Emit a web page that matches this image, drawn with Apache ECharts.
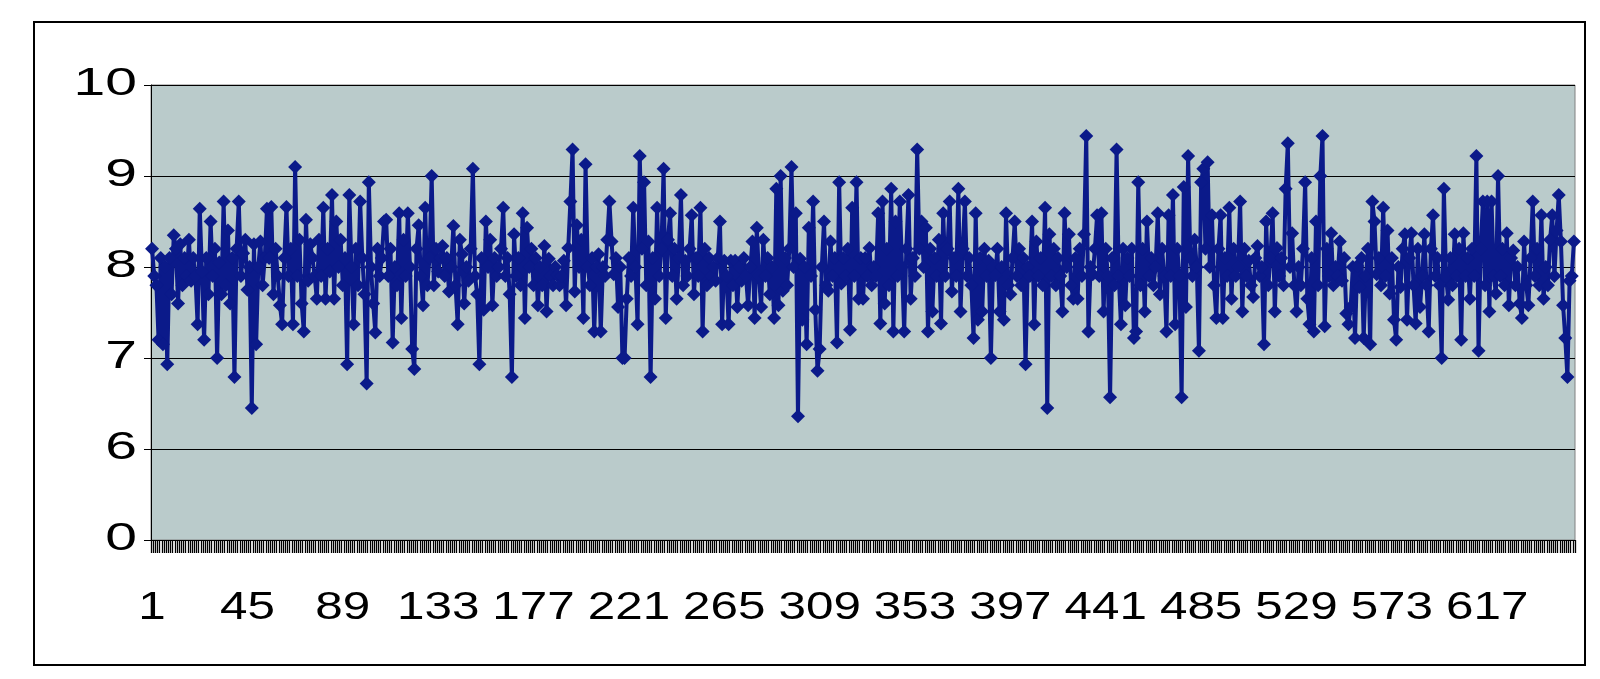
<!DOCTYPE html>
<html>
<head>
<meta charset="utf-8">
<script src="https://cdn.jsdelivr.net/npm/echarts@6/dist/echarts.min.js"></script>
<style>
html,body{margin:0;padding:0;background:#fff;}
#c{width:1600px;height:679px;}
</style>
</head>
<body>
<div id="c"></div>
<script>
// values, in segments of ~55 points each
const seg1 = [8.2,7.9,7.8,7.2,8.1,7.15,8.0,6.93,8.1,7.7,8.35,8.2,7.6,8.25,7.8,8.1,7.9,8.3,7.85,8.1,7.9,7.37,8.64,7.95,7.2,8.1,7.7,8.5,7.9,8.2,7.0,8.05,7.7,8.72,7.8,8.4,7.6,8.1,6.79,8.2,8.72,7.9,8.15,8.3,7.75,8.0,6.45,8.25,7.15,8.0,8.28,7.8,8.1,8.64];
const seg2 = [8.1,8.66,7.7,8.2,7.9,7.58,7.37,8.1,8.66,7.9,8.2,7.37,9.1,7.9,8.3,7.6,7.29,8.52,7.85,8.25,8.1,7.9,7.65,8.3,7.9,8.65,7.65,8.2,7.95,8.79,7.65,8.5,8.0,8.3,7.8,8.1,6.93,8.79,8.0,7.37,8.2,7.8,8.72,8.1,7.7,6.72,8.93,8.0,7.6,7.28,8.2,7.9,8.1,8.5];
const seg3 = [8.52,7.9,8.2,7.17,8.0,7.8,8.59,7.44,8.3,7.9,8.59,8.0,7.1,6.88,8.2,8.46,7.9,7.58,8.65,7.8,8.1,9.0,7.8,8.2,7.95,8.1,8.23,7.9,8.1,7.73,8.0,8.45,7.8,7.37,8.3,8.14,7.6,8.0,7.85,8.2,9.08,7.9,7.7,6.93,8.1,7.53,8.5,8.0,8.3,7.58,8.1,7.9,8.0,8.2,8.65,7.9];
const seg4 = [8.1,7.7,6.79,8.36,7.9,8.1,7.8,8.59,7.44,8.43,8.0,8.2,7.8,8.1,7.58,8.0,7.8,8.23,7.51,8.09,7.9,7.8,8.0,7.91,7.8,7.9,8.07,7.58,8.21,8.72,9.29,7.73,8.46,8.0,8.3,7.44,9.13,8.0,7.8,8.1,7.29,8.0,8.14,7.29,8.0,7.9,8.3,8.72,8.28,7.92,8.1,7.56,8.0,7.0];
const seg5 = [7.0,7.65,8.1,7.9,8.65,8.0,7.37,9.22,8.2,8.93,7.8,8.28,6.79,8.1,7.65,8.65,7.9,8.2,9.08,7.44,8.3,8.59,7.9,8.2,7.65,8.1,8.79,7.8,8.07,7.9,8.2,8.57,7.7,8.1,7.9,8.65,7.29,8.2,7.8,8.1,7.9,8.0,7.85,8.1,8.5,7.37,8.07,7.9,7.37,8.07,7.8,8.07,7.56,8.0];
const seg6 = [7.85,8.1,7.9,7.58,8.0,8.28,7.44,8.43,7.9,7.56,8.3,7.9,8.1,7.7,8.0,7.44,8.86,7.58,9.0,7.74,8.1,7.8,8.2,9.1,8.0,8.59,6.36,8.09,7.42,8.0,7.15,8.43,7.9,8.72,7.53,6.86,7.1,8.0,8.5,7.8,7.74,8.28,7.9,8.1,7.17,8.93,7.82,8.1,7.9,8.2,7.31,8.65,7.9,8.93,7.65,8.1];
const seg7 = [7.65,8.1,7.9,8.21,7.8,8.0,7.9,8.59,7.38,8.72,7.6,8.2,7.8,8.86,7.29,8.5,7.9,8.72,8.0,7.29,8.2,8.79,7.65,8.1,7.9,9.29,8.2,8.5,8.0,8.43,7.29,8.2,7.51,8.1,7.9,8.3,7.38,8.59,7.9,8.2,8.72,7.73,8.1,7.9,8.86,7.51,8.2,8.72,7.9,8.1,7.8,7.22,8.59,7.42,8.1];
const seg8 = [7.51,8.2,7.9,8.07,7.0,8.0,7.91,8.2,7.51,8.0,7.42,8.59,7.8,7.7,8.1,8.5,7.9,8.2,7.8,8.1,6.93,8.0,7.9,8.5,7.37,8.28,7.9,8.1,7.8,8.65,6.45,8.36,7.9,8.2,7.8,8.1,7.9,7.51,8.59,8.0,8.36,7.8,7.65,8.1,7.65,8.2,7.9,8.36,9.44,7.29,8.0,7.92,8.2,8.57,7.9];
const seg9 = [8.59,7.51,8.2,7.9,6.57,8.1,7.8,9.29,7.9,7.37,8.2,7.58,8.1,7.9,8.2,7.22,7.29,8.93,7.8,8.2,7.51,8.5,7.9,8.1,7.8,8.0,8.59,7.7,8.2,7.9,7.29,8.57,7.9,8.79,7.37,8.2,7.9,6.57,8.88,7.56,9.22,8.1,7.9,8.3,8.0,7.08,8.93,9.08,8.2,9.15,8.0,8.57,7.8,7.44,8.2];
const seg10 = [8.57,7.44,8.1,7.9,8.65,7.65,8.2,7.9,8.0,8.72,7.51,8.2,7.9,8.07,7.8,7.67,8.1,8.23,7.9,8.0,7.15,8.5,7.8,8.1,8.59,7.51,8.21,7.9,8.1,7.8,8.86,9.36,8.0,8.37,7.8,7.51,8.0,7.8,8.2,8.93,7.65,7.37,8.1,7.29,8.5,7.8,9.0,9.44,7.35,8.2,7.9,8.37,7.8,8.0,7.9];
const seg11 = [8.28,7.85,8.1,7.49,7.37,7.56,8.0,7.22,8.01,7.78,8.1,7.22,7.9,8.2,7.15,8.72,8.5,7.92,8.1,7.8,8.65,7.9,8.4,7.71,8.1,7.42,7.2,8.0,7.78,8.2,8.36,7.42,8.1,8.37,7.8,7.38,8.2,7.56,7.9,8.36,7.8,7.29,8.2,8.57,7.9,8.1,7.8,7.0,8.86,7.9,7.64,8.1,7.8,8.36,7.9,8.2];
const seg12 = [7.2,8.37,7.9,8.1,7.65,8.2,7.9,9.22,7.08,8.2,8.72,7.8,8.72,7.51,8.72,7.9,7.71,9.0,7.9,8.2,7.8,8.37,7.58,8.1,8.18,7.8,8.0,7.6,7.44,8.28,7.8,7.58,8.1,8.72,7.9,8.2,7.8,8.57,7.65,8.0,7.8,8.3,8.57,7.9,8.4,8.79,8.28,7.58,7.22,6.79,7.85,7.9,8.28];

const values = [].concat(seg1,seg2,seg3,seg4,seg5,seg6,seg7,seg8,seg9,seg10,seg11,seg12);
const categories = values.map((v,i)=>String(i+1));
const xLabelStep = 44;
const yTicks = [5,6,7,8,9,10];
const yTickLabels = ['0','6','7','8','9','10'];

const FONT = '38px "Liberation Sans", Arial, sans-serif';
const X_STRETCH = 1.3;
const Y_STRETCH = 1.5;

const chart = echarts.init(document.getElementById('c'), null, {renderer:'canvas'});
chart.setOption({
  animation:false,
  backgroundColor:'#ffffff',
  grid:{left:151, right:25, top:85, bottom:139, show:true,
        backgroundColor:'#BACBCB', borderColor:'#808080', borderWidth:1},
  xAxis:{
    type:'category', data:categories, boundaryGap:true,
    axisLine:{show:true, lineStyle:{color:'#000', width:1}},
    axisTick:{show:true, interval:0, length:13, lineStyle:{color:'#000', width:1.3}},
    axisLabel:{show:false},
    splitLine:{show:false}
  },
  yAxis:{
    type:'value', min:5, max:10, interval:1,
    axisLine:{show:true, lineStyle:{color:'#000', width:1}},
    axisTick:{show:true, length:7, lineStyle:{color:'#000'}},
    axisLabel:{show:false},
    splitLine:{show:true, lineStyle:{color:'#000', width:1}}
  },
  series:[{
    type:'line', data:values,
    symbol:'diamond', symbolSize:14, showAllSymbol:true,
    lineStyle:{color:'#0B1A8A', width:4},
    itemStyle:{color:'#0B1A8A'},
    emphasis:{disabled:true}
  }]
});

// axis labels (stretched like the reference), positioned through the axes' own scales
const gfx = [{
  type:'rect', id:'frame', x:34, y:22, shape:{x:0,y:0,width:1551,height:643},
  style:{fill:'none', stroke:'#000', lineWidth:2}, z:-1
}];
for (let i = 0; i < categories.length; i += xLabelStep) {
  const px = chart.convertToPixel({xAxisIndex:0}, i);
  gfx.push({type:'text', x:px, y:609, scaleX:X_STRETCH, z:10,
    style:{text:categories[i], font:FONT, fill:'#000',
           align:'center', verticalAlign:'middle', textAlign:'center', textVerticalAlign:'middle'}});
}
yTicks.forEach((v,k)=>{
  const py = chart.convertToPixel({yAxisIndex:0}, v);
  gfx.push({type:'text', x:137, y:py, scaleX:Y_STRETCH, z:10,
    style:{text:yTickLabels[k], font:FONT, fill:'#000',
           align:'right', verticalAlign:'middle', textAlign:'right', textVerticalAlign:'middle'}});
});
chart.setOption({graphic:gfx});
</script>
</body>
</html>
